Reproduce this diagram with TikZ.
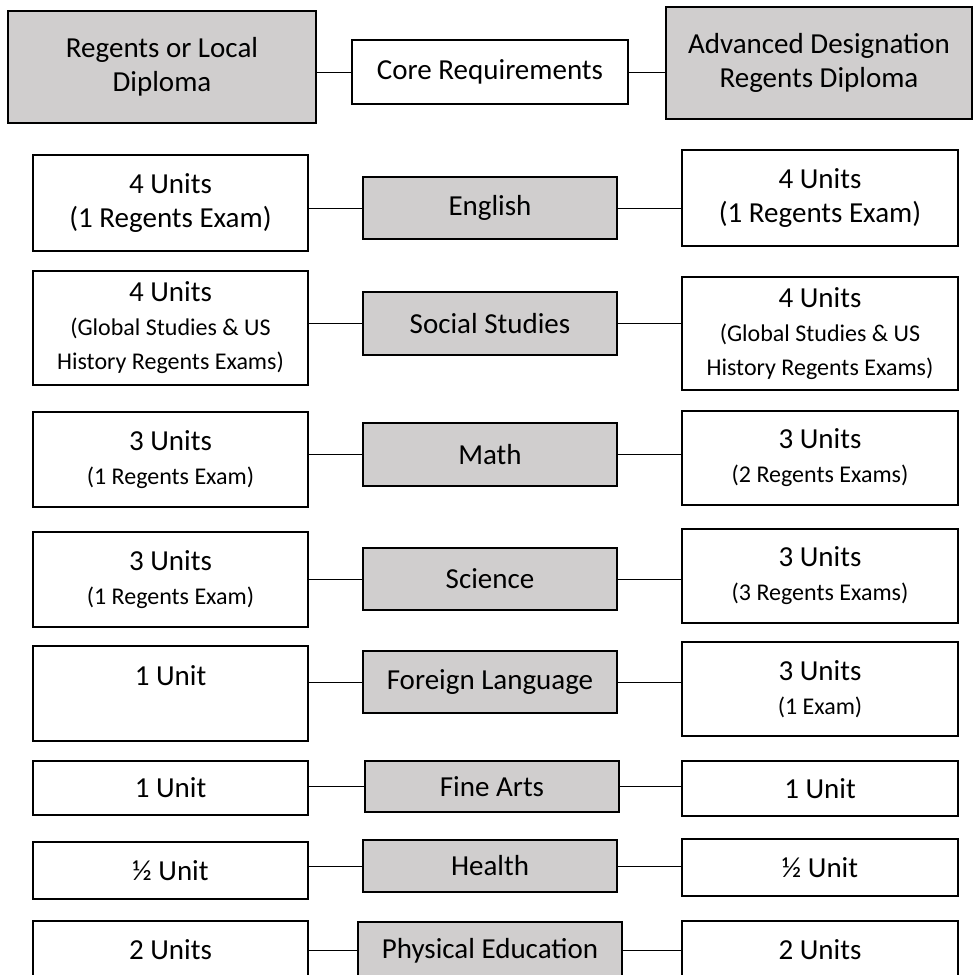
\documentclass[tikz,border=0pt]{standalone}
\usepackage{fontspec}
\setmainfont{Carlito}
\definecolor{boxgrey}{HTML}{D0CECE}
\newcommand{\smtxt}[1]{{\fontsize{12}{17}\selectfont #1}}

\begin{document}
\begin{tikzpicture}[x=0.5pt,y=-0.5pt,
	boxwh/.style 2 args={minimum width=#1*0.5pt,minimum height=#2*0.5pt},
	unitbox/.style={draw,line width=1pt,fill=white,inner sep=0pt,align=center,font=\fontsize{14.5}{17}\selectfont},
	subjbox/.style={unitbox,fill=boxgrey},
	link/.style={line width=0.5pt}]
	\useasboundingbox (0,0) rectangle (975,975);
	\clip (0,0) rectangle (975,975);
	\fill[white] (0,0) rectangle (975,975);

	\node[subjbox,boxwh={308}{112}] (regl) at (162,67) {Regents or Local\\Diploma};
	\node[unitbox,boxwh={276}{64}] (core) at (490,72) {Core Requirements};
	\node[subjbox,boxwh={306}{112}] (adv) at (819,63) {Advanced Designation\\Regents Diploma};

	\node[unitbox,boxwh={275}{96}] (engl) at (170.5,203) {4 Units\\(1 Regents Exam)};
	\node[subjbox,boxwh={254}{62}] (eng) at (490,208) {English};
	\node[unitbox,boxwh={276}{96}] (engr) at (820,198) {4 Units\\(1 Regents Exam)};

	\node[unitbox,boxwh={275}{114}] (socl) at (170.5,328) {4 Units\\\smtxt{(Global Studies \& US}\\\smtxt{History Regents Exams)}};
	\node[subjbox,boxwh={254}{63}] (soc) at (490,323.5) {Social Studies};
	\node[unitbox,boxwh={276}{113}] (socr) at (820,333.5) {4 Units\\\smtxt{(Global Studies \& US}\\\smtxt{History Regents Exams)}};

	\node[unitbox,boxwh={275}{95}] (matl) at (170.5,459.5) {3 Units\\\smtxt{(1 Regents Exam)}};
	\node[subjbox,boxwh={254}{63}] (mat) at (490,454.5) {Math};
	\node[unitbox,boxwh={276}{94}] (matr) at (820,458) {3 Units\\\smtxt{(2 Regents Exams)}};

	\node[unitbox,boxwh={275}{95}] (scil) at (170.5,579.5) {3 Units\\\smtxt{(1 Regents Exam)}};
	\node[subjbox,boxwh={254}{62}] (sci) at (490,579) {Science};
	\node[unitbox,boxwh={276}{94}] (scir) at (820,576) {3 Units\\\smtxt{(3 Regents Exams)}};

	\node[unitbox,boxwh={275}{95},text depth=18pt] (forl) at (170.5,693.5) {1 Unit};
	\node[subjbox,boxwh={254}{62}] (for) at (490,682) {Foreign Language};
	\node[unitbox,boxwh={276}{94}] (forr) at (820,689) {3 Units\\\smtxt{(1 Exam)}};

	\node[unitbox,boxwh={275}{54}] (artl) at (170.5,788) {1 Unit};
	\node[subjbox,boxwh={254}{51}] (art) at (492,786.5) {Fine Arts};
	\node[unitbox,boxwh={276}{55}] (artr) at (820,788.5) {1 Unit};

	\node[unitbox,boxwh={275}{57}] (hltl) at (170.5,870.5) {½ Unit};
	\node[subjbox,boxwh={254}{52}] (hlt) at (490,866) {Health};
	\node[unitbox,boxwh={276}{57}] (hltr) at (820,867.5) {½ Unit};

	\node[unitbox,boxwh={275}{57}] (pedl) at (170.5,949.5) {2 Units};
	\node[subjbox,boxwh={264}{57}] (ped) at (490,950.5) {Physical Education};
	\node[unitbox,boxwh={276}{57}] (pedr) at (820,949.5) {2 Units};

	% connectors, drawn at the height of the middle box
	\draw[link] (core.west) -- (core.west -| regl.east);
	\draw[link] (core.east) -- (core.east -| adv.west);
	\draw[link] (eng.west) -- (eng.west -| engl.east);
	\draw[link] (eng.east) -- (eng.east -| engr.west);
	\draw[link] (soc.west) -- (soc.west -| socl.east);
	\draw[link] (soc.east) -- (soc.east -| socr.west);
	\draw[link] (mat.west) -- (mat.west -| matl.east);
	\draw[link] (mat.east) -- (mat.east -| matr.west);
	\draw[link] (sci.west) -- (sci.west -| scil.east);
	\draw[link] (sci.east) -- (sci.east -| scir.west);
	\draw[link] (for.west) -- (for.west -| forl.east);
	\draw[link] (for.east) -- (for.east -| forr.west);
	\draw[link] (art.west) -- (art.west -| artl.east);
	\draw[link] (art.east) -- (art.east -| artr.west);
	\draw[link] (hlt.west) -- (hlt.west -| hltl.east);
	\draw[link] (hlt.east) -- (hlt.east -| hltr.west);
	\draw[link] (ped.west) -- (ped.west -| pedl.east);
	\draw[link] (ped.east) -- (ped.east -| pedr.west);
\end{tikzpicture}
\end{document}
